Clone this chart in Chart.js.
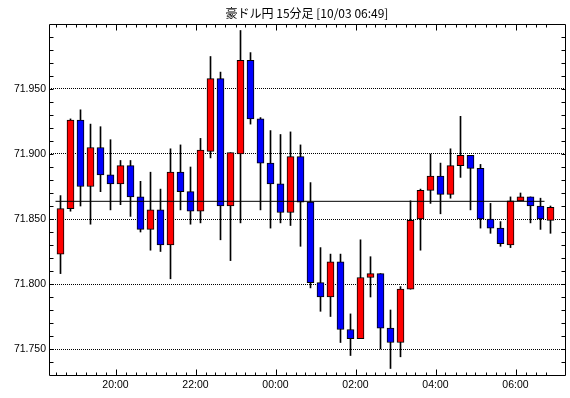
<!DOCTYPE html>
<html>
<head>
<meta charset="utf-8">
<script src="https://cdn.jsdelivr.net/npm/chart.js@4/dist/chart.umd.min.js"></script>
<style>
html,body{margin:0;padding:0;background:#fff;}
canvas{display:block;}
</style>
</head>
<body>
<canvas id="c" width="570" height="398"></canvas>
<script>
const titleText = '豪ドル円 15分足 [10/03 06:49]';
const times = ['18:30','18:45','19:00','19:15','19:30','19:45','20:00','20:15','20:30','20:45',
  '21:00','21:15','21:30','21:45','22:00','22:15','22:30','22:45','23:00','23:15',
  '23:30','23:45','00:00','00:15','00:30','00:45','01:00','01:15','01:30','01:45',
  '02:00','02:15','02:30','02:45','03:00','03:15','03:30','03:45','04:00','04:15',
  '04:30','04:45','05:00','05:15','05:30','05:45','06:00','06:15','06:30','06:45'];
const opens = [71.823,71.858,71.926,71.875,71.905,71.884,71.877,71.891,71.867,71.842,
  71.857,71.830,71.886,71.871,71.856,71.902,71.958,71.860,71.900,71.972,
  71.927,71.893,71.877,71.855,71.898,71.863,71.801,71.790,71.817,71.765,
  71.758,71.805,71.808,71.766,71.755,71.796,71.850,71.872,71.883,71.869,
  71.891,71.899,71.889,71.850,71.843,71.830,71.864,71.867,71.860,71.849];
const highs = [71.868,71.927,71.934,71.923,71.921,71.911,71.895,71.895,71.879,71.886,
  71.873,71.904,71.907,71.890,71.912,71.975,71.963,71.901,71.995,71.978,
  71.928,71.918,71.915,71.917,71.907,71.878,71.828,71.823,71.823,71.777,
  71.834,71.821,71.808,71.780,71.798,71.864,71.873,71.900,71.893,71.904,
  71.929,71.899,71.892,71.862,71.848,71.867,71.870,71.867,71.866,71.860];
const lows = [71.808,71.856,71.860,71.846,71.871,71.857,71.861,71.852,71.840,71.826,
  71.825,71.804,71.857,71.846,71.847,71.897,71.834,71.818,71.847,71.923,
  71.857,71.843,71.847,71.845,71.829,71.797,71.779,71.775,71.755,71.745,
  71.758,71.790,71.750,71.735,71.744,71.796,71.826,71.862,71.854,71.866,
  71.882,71.857,71.843,71.839,71.829,71.828,71.864,71.847,71.842,71.839];
const closes = [71.858,71.926,71.875,71.905,71.884,71.877,71.891,71.867,71.842,71.857,
  71.830,71.886,71.871,71.856,71.903,71.958,71.860,71.901,71.972,71.927,
  71.893,71.877,71.855,71.898,71.863,71.801,71.790,71.817,71.765,71.758,
  71.805,71.808,71.766,71.755,71.796,71.849,71.872,71.883,71.869,71.891,
  71.899,71.889,71.850,71.843,71.831,71.864,71.867,71.860,71.850,71.859];
const refLevel = 71.8636;
const refSpan = [-0.5, 48.4];
const xTickLabels = ['20:00','22:00','00:00','02:00','04:00','06:00'];
const yTickValues = [71.750, 71.800, 71.850, 71.900, 71.950];

const UP = '#ff0000', DOWN = '#0000ff';

const bodies = times.map((t, i) => ({x: i, y: [opens[i], closes[i]]}));
const wicks = times.map((t, i) => ({x: i, y: [lows[i], highs[i]]}));
const bodyColors = times.map((t, i) => closes[i] >= opens[i] ? UP : DOWN);

const tickPlugin = {
  id: 'frameTicks',
  afterDraw(chart) {
    const ctx = chart.ctx;
    const a = chart.chartArea;
    const xs = chart.scales.x, ys = chart.scales.y;
    const L = Math.round(a.left) + 0.5, T = Math.round(a.top) + 0.5;
    const R = Math.round(a.right) + 0.5, B = Math.round(a.bottom) + 0.5;
    ctx.save();
    ctx.strokeStyle = '#000';
    ctx.lineWidth = 1;
    ctx.setLineDash([]);
    ctx.beginPath();
    ctx.rect(L, T, R - L, B - T);
    times.forEach((t, i) => {
      const px = Math.round(xs.getPixelForValue(i - 0.5)) + 0.5;
      const len = xTickLabels.includes(t) ? 6 : 3;
      ctx.moveTo(px, B); ctx.lineTo(px, B - len);
      ctx.moveTo(px, T); ctx.lineTo(px, T + len);
    });
    for (let k = Math.ceil(ys.min * 100); k <= Math.floor(ys.max * 100); k++) {
      const py = Math.round(ys.getPixelForValue(k / 100)) + 0.5;
      if (py <= T + 1 || py >= B - 1) continue;
      ctx.moveTo(L, py); ctx.lineTo(L + 4, py);
      ctx.moveTo(R, py); ctx.lineTo(R - 4, py);
    }
    ctx.stroke();
    ctx.restore();
  }
};

Chart.defaults.font.family = "'Liberation Sans', Arial, sans-serif";
Chart.defaults.color = '#000';

new Chart(document.getElementById('c'), {
  type: 'bar',
  data: {
    datasets: [
      {
        type: 'line',
        data: [{x: refSpan[0], y: refLevel}, {x: refSpan[1], y: refLevel}],
        borderColor: '#000', borderWidth: 1, pointRadius: 0, order: 0
      },
      {
        data: bodies,
        backgroundColor: bodyColors,
        borderColor: '#000', borderWidth: 1, borderSkipped: false,
        barThickness: 7, grouped: false, order: 1
      },
      {
        data: wicks,
        backgroundColor: '#000', borderWidth: 0,
        barThickness: 1, grouped: false, order: 2
      }
    ]
  },
  options: {
    responsive: false,
    animation: false,
    devicePixelRatio: 1,
    layout: {padding: {left: 0, right: 5, top: 0, bottom: 0}},
    plugins: {
      legend: {display: false},
      tooltip: {enabled: false},
      title: {
        display: true, text: titleText, fullSize: false,
        color: '#000',
        font: {family: "'Noto Sans CJK JP'", size: 12, weight: 'normal'},
        padding: {top: 6, bottom: 3.6}
      }
    },
    scales: {
      x: {
        type: 'linear', min: -1.15, max: 50.45, offset: false,
        grid: {display: false, drawTicks: false, offset: false},
        border: {display: false},
        afterBuildTicks: s => { s.ticks = xTickLabels.map(l => ({value: times.indexOf(l) - 0.5})); },
        afterFit: s => { s.height = 23; },
        ticks: {
          autoSkip: false, maxRotation: 0, padding: 4,
          font: {size: 10.5},
          callback: v => times[Math.round(v + 0.5)]
        }
      },
      y: {
        type: 'linear', position: 'left', min: 71.730, max: 72.000,
        grid: {color: '#000', lineWidth: 1, drawTicks: false},
        border: {display: false, dash: [1, 1]},
        afterBuildTicks: s => { s.ticks = yTickValues.map(v => ({value: v})); },
        afterFit: s => { s.width = 49; },
        ticks: {
          padding: 3, font: {size: 10.5},
          callback: v => v.toFixed(3)
        }
      }
    }
  },
  plugins: [tickPlugin]
});
</script>
</body>
</html>
